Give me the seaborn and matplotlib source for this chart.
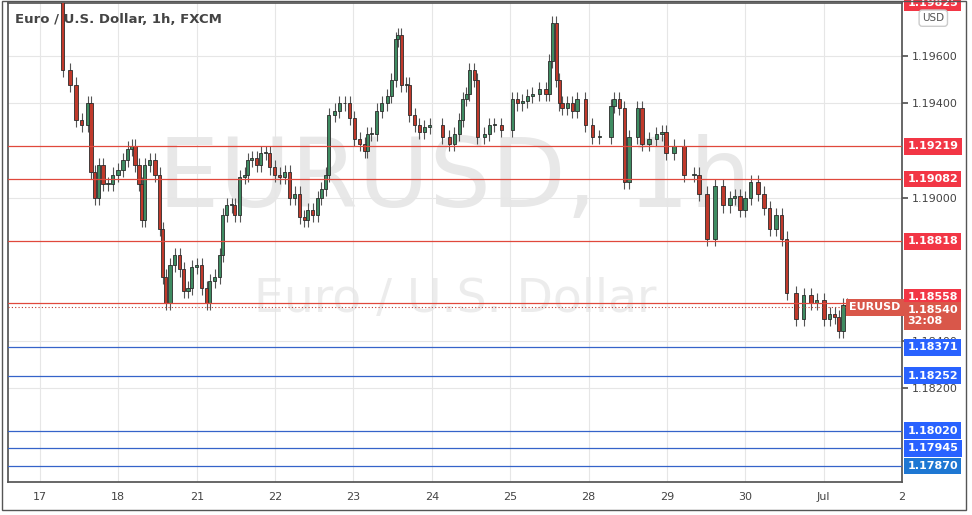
import matplotlib
matplotlib.use("Agg")
import matplotlib.pyplot as plt
import seaborn as sns
import numpy as np

# hour index since 17 Jun 00:00 (trading hours, weekends skipped)
hours = [7.0,9.2,11.0,12.8,14.7,15.6,16.8,18.0,19.3,20.8,22.3,23.9,25.4,26.9,28.1,29.1,30.3,31.2,32.1,33.6,
35.2,36.7,37.6,38.5,39.8,41.3,42.8,44.0,45.3,46.5,48.0,49.5,51.1,52.0,53.5,55.0,56.0,57.2,58.7,59.6,
61.2,62.7,63.6,64.8,66.4,67.6,69.1,70.3,71.9,73.4,74.9,76.5,78.0,79.5,81.0,82.0,83.5,85.0,86.2,87.5,
88.4,90.2,91.7,93.3,94.8,96.3,97.9,99.4,100.3,101.5,103.1,104.6,106.4,107.6,108.9,109.5,110.7,112.2,113.1,114.7,
116.2,117.7,119.3,
123.2,125.4,126.9,128.4,129.4,130.6,131.5,133.0,133.9,136.1,
137.6,139.1,141.3,144.6,146.2,147.7,149.2,150.8,152.9,155.0,
156.0,156.9,158.1,159.0,159.9,161.5,163.0,164.5,167.0,169.1,
171.3,174.9,175.8,177.4,178.9,180.4,182.9,184.4,186.5,188.7,
190.5,191.7,194.2,197.2,200.3,201.8,204.3,206.7,209.2,211.3,
212.8,214.4,215.9,217.7,219.9,221.7,223.5,225.4,227.2,228.7,
231.5,233.9,236.1,237.9,240.1,241.9,243.4,244.6,245.9,247.1]
closes = [1.1954,1.1948,1.1933,1.1931,1.1940,1.1911,1.1900,1.1914,1.1906,1.1906,1.1910,1.1912,1.1916,1.1921,1.1922,1.1914,1.1906,1.1891,1.1914,1.1916,
1.1910,1.1887,1.1867,1.1856,1.1872,1.1876,1.1870,1.1861,1.1862,1.1871,1.1872,1.1862,1.1856,1.1865,1.1867,1.1876,1.1893,1.1897,1.1897,1.1893,
1.1909,1.1910,1.1916,1.1917,1.1914,1.1919,1.1919,1.1913,1.1910,1.1909,1.1911,1.1900,1.1902,1.1892,1.1891,1.1895,1.1893,1.1900,1.1904,1.1910,
1.1935,1.1937,1.1940,1.1940,1.1934,1.1925,1.1923,1.1920,1.1927,1.1927,1.1937,1.1940,1.1943,1.1950,1.1967,1.1969,1.1948,1.1948,1.1935,1.1931,
1.1928,1.1930,1.1931,
1.1926,1.1923,1.1927,1.1933,1.1942,1.1944,1.1954,1.1950,1.1926,1.1927,
1.1931,1.1931,1.1929,1.1942,1.1940,1.1941,1.1943,1.1944,1.1946,1.1944,
1.1958,1.1974,1.1950,1.1940,1.1938,1.1940,1.1937,1.1942,1.1931,1.1926,
1.1926,1.1939,1.1942,1.1938,1.1907,1.1926,1.1938,1.1923,1.1925,1.1927,
1.1928,1.1919,1.1922,1.1910,1.1910,1.1902,1.1883,1.1905,1.1897,1.1900,
1.1901,1.1895,1.1900,1.1907,1.1902,1.1896,1.1887,1.1893,1.1883,1.1860,
1.1849,1.1859,1.1856,1.1857,1.1849,1.1851,1.1850,1.1844,1.1855,1.1854]
first_open = 1.1986
wick = 0.0003

red_levels = [1.19219, 1.19082, 1.18818, 1.18558]
blue_levels = [1.18371, 1.18252, 1.18020, 1.17945, 1.17870]
last_price = 1.18540
y_ticks = [1.18200, 1.18400, 1.19000, 1.19400, 1.19600]
day_labels = ["17","18","21","22","23","24","25","28","29","30","Jul","2"]

sns.set_theme(style="white")
plt.rcParams['font.family'] = ['DejaVu Sans']
fig = plt.figure(figsize=(9.72, 5.15), dpi=100)
ax = fig.add_axes([8/972, 33/515, 894/972, 479/515])

opens = [first_open] + closes[:-1]
w = 1.0
for x, o, c in zip(hours, opens, closes):
    up = c >= o
    col = "#3f8c62" if up else "#c0392b"
    ax.vlines(x, min(o, c) - wick, max(o, c) + wick, color="#555555", lw=0.8, zorder=2)
    ax.bar(x, max(abs(c-o), 0.00004), bottom=min(o, c), width=w, color=col,
           edgecolor="#2b2b2b", linewidth=0.6, zorder=3)

ax.set_xlim(-9.8, 264)
ax.set_ylim(1.17803, 1.19824)
ax.set_xticks(np.arange(0, 12*24, 24))
ax.set_xticklabels(day_labels, fontsize=8, color="#444444")
ax.set_yticks(y_ticks)
ax.set_yticklabels([f"{v:.5f}" for v in y_ticks], fontsize=8, color="#444444")
ax.yaxis.tick_right()
ax.tick_params(axis="both", length=4, color="#555555", pad=3)
ax.grid(True, color="#e6e6e6", lw=0.8)
for s in ax.spines.values():
    s.set_color("#555555")

ax.text(0.5, 0.63, "EURUSD, 1h", transform=ax.transAxes, ha="center", va="center",
        fontsize=70, color="#e8e8e8", zorder=0)
ax.text(0.5, 0.38, "Euro / U.S. Dollar", transform=ax.transAxes, ha="center", va="center",
        fontsize=34, color="#ececec", zorder=0)
ax.text(0.008, 0.965, "Euro / U.S. Dollar, 1h, FXCM", transform=ax.transAxes,
        fontsize=9.5, color="#444444", fontweight="bold", va="center")

for v in red_levels:
    ax.axhline(v, color="#e0483c", lw=0.9, zorder=4)
for v in blue_levels:
    ax.axhline(v, color="#3563c9", lw=0.9, zorder=4)
ax.axhline(last_price, color="#c0392b", lw=0.8, ls=(0, (1, 2)), zorder=4)

def box(v, txt, fc, va="center"):
    ax.text(1.006, v, txt, transform=ax.get_yaxis_transform(), ha="left", va=va,
            fontsize=8, color="white", fontweight="bold", zorder=10, clip_on=False,
            bbox=dict(boxstyle="square,pad=0.3", fc=fc, ec="none"))

for v in red_levels[:-1]:
    box(v, f"{v:.5f}", "#f23645")
box(red_levels[-1] + 0.00004, f"{red_levels[-1]:.5f}", "#f23645", va="bottom")
for v in blue_levels[:-1]:
    box(v, f"{v:.5f}", "#2962ff")
box(blue_levels[-1], f"{blue_levels[-1]:.5f}", "#1e77d3")
ax.text(1.006, last_price + 0.00008, "1.18540\n32:08", transform=ax.get_yaxis_transform(),
        ha="left", va="top", fontsize=8, color="white", fontweight="bold", zorder=11,
        linespacing=1.1, clip_on=False, bbox=dict(boxstyle="square,pad=0.3", fc="#d9574a", ec="none"))
ax.text(0.998, last_price, "EURUSD", transform=ax.get_yaxis_transform(), ha="right", va="center",
        fontsize=8, color="white", fontweight="bold", zorder=11,
        bbox=dict(boxstyle="square,pad=0.3", fc="#d9574a", ec="none"))
ax.text(1.006, 1.19825, "1.19825", transform=ax.get_yaxis_transform(), ha="left", va="center",
        fontsize=8, color="white", fontweight="bold", zorder=10, clip_on=False,
        bbox=dict(boxstyle="square,pad=0.3", fc="#f23645", ec="none"))
ax.text(1.035, 1.19760, "USD", transform=ax.get_yaxis_transform(), ha="center", va="center",
        fontsize=7.5, color="#555555", zorder=10, clip_on=False,
        bbox=dict(boxstyle="round,pad=0.3", fc="white", ec="#cccccc"))

fig.add_artist(plt.Rectangle((2/972, 5/515), 964/972, 509/515, transform=fig.transFigure,
                             fill=False, ec="#555555", lw=1))
fig.savefig("out.png", dpi=100)
